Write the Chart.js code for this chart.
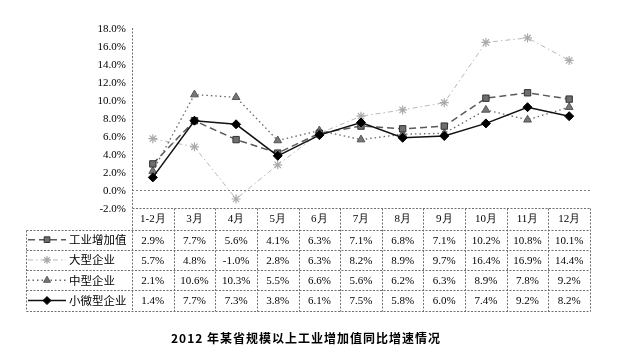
<!DOCTYPE html>
<html><head><meta charset="utf-8">
<script src="https://cdn.jsdelivr.net/npm/chart.js@4.4.1/dist/chart.umd.min.js"></script>
<style>html,body{margin:0;padding:0;background:#fff;}canvas{display:block;}</style>
</head><body>
<canvas id="c" width="637" height="355"></canvas>
<script>
const categories = ['1-2月','3月','4月','5月','6月','7月','8月','9月','10月','11月','12月'];
const seriesNames = ['工业增加值','大型企业','中型企业','小微型企业'];
const industryTotal = [2.9,7.7,5.6,4.1,6.3,7.1,6.8,7.1,10.2,10.8,10.1];
const largeEnterprises = [5.7,4.8,-1.0,2.8,6.3,8.2,8.9,9.7,16.4,16.9,14.4];
const mediumEnterprises = [2.1,10.6,10.3,5.5,6.6,5.6,6.2,6.3,8.9,7.8,9.2];
const smallEnterprises = [1.4,7.7,7.3,3.8,6.1,7.5,5.8,6.0,7.4,9.2,8.2];
const yMin = -2, yMax = 18, yStep = 2;
const titleText = '2012 年某省规模以上工业增加值同比增速情况';

const SERIF = '"Liberation Serif","Times New Roman",serif';
const CJK = '"Noto Sans CJK SC","Noto Sans",sans-serif';

const tablePlugin = {
  id: 'tablePlugin',
  beforeDatasetsDraw(chart) {
    const {ctx, chartArea: a, scales: {y}} = chart;
    ctx.save();
    ctx.strokeStyle = '#808080'; ctx.lineWidth = 1; ctx.setLineDash([2, 2]);
    const y0 = Math.round(y.getPixelForValue(0)) + 0.5;
    ctx.beginPath(); ctx.moveTo(a.left, y0); ctx.lineTo(a.right, y0); ctx.stroke();
    ctx.restore();
  },
  afterDraw(chart) {
    const {ctx, chartArea: a, scales: {x}} = chart;
    const n = categories.length;
    const colW = (a.right - a.left) / n;
    const top = Math.round(a.bottom) + 0.5;
    const headerH = 21, rowH = 20.3;
    const legL = 26.5;
    const rowsTop = top + headerH;
    const bottom = Math.round(rowsTop + rowH * seriesNames.length) + 0.5;
    ctx.save();
    ctx.strokeStyle = '#707070'; ctx.lineWidth = 1; ctx.setLineDash([2, 1.5]);
    const L = (x1, y1, x2, y2) => { ctx.beginPath(); ctx.moveTo(x1, y1); ctx.lineTo(x2, y2); ctx.stroke(); };
    const xl = Math.round(a.left) + 0.5;
    L(xl, a.top, xl, bottom);
    L(xl, top, Math.round(a.right) + 0.5, top);
    for (let r = 0; r <= seriesNames.length; r++) {
      const yy = Math.round(rowsTop + r * rowH) + 0.5;
      L(legL, yy, Math.round(a.right) + 0.5, yy);
    }
    for (let c = 1; c <= n; c++) {
      const xx = Math.round(a.left + c * colW) + 0.5;
      L(xx, top, xx, bottom);
    }
    L(legL, Math.round(rowsTop) + 0.5, legL, bottom);
    ctx.setLineDash([]);
    chart.data.datasets.forEach((ds, i) => {
      const cy = rowsTop + rowH * (i + 0.5);
      ctx.save();
      ctx.strokeStyle = ds.borderColor; ctx.lineWidth = ds.borderWidth;
      ctx.setLineDash(ds.borderDash || []);
      L(28, cy, 66, cy);
      ctx.setLineDash([]);
      ctx.fillStyle = ds.pointBackgroundColor; ctx.strokeStyle = ds.pointBorderColor;
      ctx.lineWidth = ds.pointBorderWidth;
      Chart.helpers.drawPoint(ctx, {pointStyle: ds.pointStyle, radius: ds.pointRadius - 0.5, rotation: 0, borderWidth: ds.pointBorderWidth}, 47, cy);
      ctx.restore();
      ctx.fillStyle = '#000';
      ctx.font = '11.5px ' + CJK;
      ctx.textAlign = 'left'; ctx.textBaseline = 'middle';
      ctx.fillText(ds.label, 69, cy);
      ctx.font = '11px ' + SERIF;
      ctx.textAlign = 'center';
      ds.data.forEach((v, j) => {
        ctx.fillText(v.toFixed(1) + '%', x.getPixelForValue(j), cy + 1);
      });
    });
    ctx.fillStyle = '#000';
    ctx.font = 'bold 12px ' + CJK;
    ctx.textAlign = 'center'; ctx.textBaseline = 'middle';
    try { ctx.letterSpacing = '1px'; } catch (e) {}
    ctx.fillText(titleText, 306, 338);
    ctx.restore();
  }
};

const mk = (label, data, o) => Object.assign({label, data, fill: false, tension: 0, pointHoverRadius: 4}, o);

new Chart(document.getElementById('c'), {
  type: 'line',
  data: {
    labels: categories,
    datasets: [
      mk(seriesNames[0], industryTotal, {borderColor: '#5a5a5a', borderWidth: 1.5, borderDash: [7, 4],
        pointStyle: 'rect', pointRadius: 4.5, pointBackgroundColor: '#6e6e6e', pointBorderColor: '#333', pointBorderWidth: 1, order: 2}),
      mk(seriesNames[1], largeEnterprises, {borderColor: '#b8b8b8', borderWidth: 1, borderDash: [5, 3, 1.5, 3],
        pointStyle: 'star', pointRadius: 4.5, pointBackgroundColor: '#ddd', pointBorderColor: '#aaa', pointBorderWidth: 1.2, order: 4}),
      mk(seriesNames[2], mediumEnterprises, {borderColor: '#666', borderWidth: 1.3, borderDash: [1.5, 3],
        pointStyle: 'triangle', pointRadius: 4.5, pointBackgroundColor: '#777', pointBorderColor: '#555', pointBorderWidth: 1, order: 3}),
      mk(seriesNames[3], smallEnterprises, {borderColor: '#111', borderWidth: 1.5, borderDash: [],
        pointStyle: 'rectRot', pointRadius: 4.5, pointBackgroundColor: '#000', pointBorderColor: '#000', pointBorderWidth: 1, order: 1})
    ]
  },
  options: {
    responsive: false,
    devicePixelRatio: 1,
    animation: false,
    layout: {padding: {top: 28, right: 47, bottom: 126, left: 0}},
    plugins: {legend: {display: false}, tooltip: {enabled: false}, title: {display: false}},
    scales: {
      x: {
        offset: true,
        grid: {display: false, drawTicks: false},
        border: {display: false},
        ticks: {font: {family: SERIF, size: 11}, color: '#000', padding: 5, maxRotation: 0, autoSkip: false},
        afterFit: s => { s.height = 21; }
      },
      y: {
        min: yMin, max: yMax,
        grid: {display: false, drawTicks: false},
        border: {display: false},
        ticks: {stepSize: yStep, font: {family: SERIF, size: 11}, color: '#000', padding: 6, labelOffset: 1,
          callback: v => Number(v).toFixed(1) + '%'},
        afterFit: s => { s.width = 132; }
      }
    }
  },
  plugins: [tablePlugin]
});
</script>
</body></html>
